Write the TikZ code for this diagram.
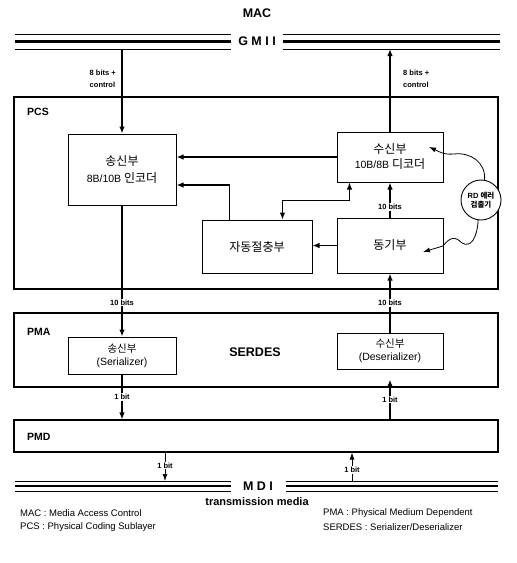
\documentclass[tikz,border=0pt]{standalone}
\usepackage{fontspec}
\setmainfont{Liberation Sans}
\newfontfamily\kr{Noto Sans CJK KR}
\usetikzlibrary{arrows.meta,calc}
\newcommand\hk[1]{{\kr\fontsize{12}{14}\selectfont #1}}
\newcommand\hks[1]{{\kr\fontsize{10.5}{12}\selectfont #1}}
\begin{document}
\begin{tikzpicture}[x=1pt,y=-1pt,
  layer/.style={draw,line width=1.1pt,minimum width=484pt,inner sep=0pt},
  blk/.style={draw,line width=1pt,inner sep=0pt,align=center,font=\fontsize{10.5}{13}\selectfont},
  conn/.style={line width=1.3pt,-{Latex[length=7pt,width=5.5pt]}},
  biconn/.style={line width=1.1pt,{Latex[length=7pt,width=5.5pt]}-{Latex[length=7pt,width=5.5pt]}},
  thinconn/.style={line width=0.8pt,-{Latex[length=7pt,width=5pt]}},
  wave/.style={line width=0.8pt,-{Latex[length=7pt,width=5pt]}},
  lbl/.style={font=\bfseries\fontsize{7.5}{12}\selectfont,inner sep=1pt},
  wlbl/.style={lbl,fill=white},
  lay/.style={font=\bfseries\fontsize{10.5}{12}\selectfont,anchor=west,inner sep=0pt},
  leg/.style={font=\fontsize{9.5}{11}\selectfont,anchor=west,inner sep=0pt},
  bus/.style={line width=0.8pt},
  busthick/.style={line width=2.4pt},
  busname/.style={fill=white,inner sep=0pt,font=\bfseries\fontsize{12.5}{14}\selectfont}]

\useasboundingbox (0,0) rectangle (517,563);

% MAC and GMII
\node[font=\bfseries\fontsize{12.5}{14}\selectfont] (mac) at (257,13) {MAC};
\draw[bus] (15,34) -- (500,34);
\draw[busthick] (15,41.5) -- (500,41.5);
\draw[bus] (15,49) -- (500,49);
\node[busname,minimum width=52pt,minimum height=20pt] (gmii) at (257,41.5) {G M I I};
\coordinate (gL) at (122,49);
\coordinate (gR) at (390,49);

% layers
\node[layer,minimum height=192pt] (pcs) at (256,193) {};
\node[layer,minimum height=74pt] (pma) at (256,350) {};
\node[layer,minimum height=32pt] (pmd) at (256,436) {};
\node[lay] (pcsl) at (27,112) {PCS};
\node[lay] (pmal) at (27,332) {PMA};
\node[lay] (pmdl) at (27,437) {PMD};

% PCS blocks
\node[blk,minimum width=108pt,minimum height=71pt] (tx) at (122,169.5) {\hk{송신부}\\[4pt]8B/10B \hk{인코더}};
\node[blk,minimum width=106pt,minimum height=50pt] (rx) at (390,157) {\hk{수신부}\\[2pt]10B/8B \hk{디코더}};
\node[blk,minimum width=110pt,minimum height=53pt] (auto) at (257,246.5) {\hk{자동절충부}};
\node[blk,minimum width=106pt,minimum height=55pt] (sync) at (390,245.5) {\hk{동기부}};

% PMA blocks
\node[blk,minimum width=108pt,minimum height=37pt] (ser) at (122,355.5) {\hks{송신부}\\(Serializer)};
\node[blk,minimum width=106pt,minimum height=36pt] (des) at (390,351) {\hks{수신부}\\(Deserializer)};
\node[font=\bfseries\fontsize{12.5}{14}\selectfont] (serdes) at (255,352) {SERDES};

% GMII connectors
\draw[conn] (gL) -- (tx.north);
\draw[conn] (rx.north) -- (gR);
\node[lbl,anchor=east,align=left] (lblL) at (117,79) {8 bits +\\control};
\node[lbl,anchor=west,align=left] (lblR) at (402,79) {8 bits +\\control};

% PCS connectors
\draw[conn] (rx.west) -- (rx.west -| tx.east);
\draw[conn] ($(auto.north west)+(28,0)$) |- ($(tx.east)+(0,15.5)$);
\draw[biconn] ($(auto.north west)+(81,0)$) |- ($(rx.south west)+(13,18)$) -- ($(rx.south west)+(13,0)$);
\draw[conn] (sync.north) -- node[wlbl,pos=0.3] {10 bits} (rx.south);
\draw[conn] (sync.west) -- (sync.west -| auto.east);

% PCS - PMA
\draw[conn] (tx.south) -- node[wlbl,pos=0.74] {10 bits} (ser.north);
\draw[conn] (des.north) -- node[wlbl,pos=0.5] {10 bits} (sync.south);

% PMA - PMD
\draw[conn] (ser.south) -- node[wlbl,pos=0.5] {1 bit} (ser.south |- pmd.north);
\draw[conn] (des.south |- pmd.north) -- node[wlbl,pos=0.5] {1 bit} ([yshift=-10pt]des.south);

% RD error detector
\node[draw,circle,line width=0.9pt,fill=white,minimum size=40pt,inner sep=0pt,align=center,
      font=\bfseries\fontsize{7.5}{9.5}\selectfont] (rd) at (481,200) {RD {\kr 에러}\\{\kr 검출기}};
\coordinate (rdA) at (429,147);
\coordinate (rdB) at (423,252);
\draw[wave] (rd.80) .. controls (486,162) and (470,152) .. (454,154) .. controls (443,155) and (438,151) .. (rdA);
\draw[wave] (rd.262) .. controls (477,238) and (471,248) .. (462,243) .. controls (455,236) and (450,237) .. (443,246) -- (rdB);

% MDI
\draw[bus] (15,481) -- (498,481);
\draw[busthick] (15,486) -- (498,486);
\draw[bus] (15,491) -- (498,491);
\node[busname,minimum width=55pt,minimum height=14pt] (mdi) at (258,486) {M D I};
\coordinate (mL) at (165,481);
\coordinate (mR) at (352,481);
\draw[thinconn] (pmd.south -| mL) -- node[wlbl,pos=0.45] {1 bit} (mL);
\draw[thinconn] (mR) -- node[wlbl,pos=0.38] {1 bit} (pmd.south -| mR);

\node[font=\bfseries\fontsize{11}{13}\selectfont] (media) at (257,502) {transmission media};

% legend
\node[leg] (leg1) at (20,513) {MAC : Media Access Control};
\node[leg] (leg2) at (20,527) {PCS : Physical Coding Sublayer};
\node[leg] (leg3) at (323,513) {PMA : Physical Medium Dependent};
\node[leg] (leg4) at (323,527) {SERDES : Serializer/Deserializer};
\end{tikzpicture}
\end{document}
